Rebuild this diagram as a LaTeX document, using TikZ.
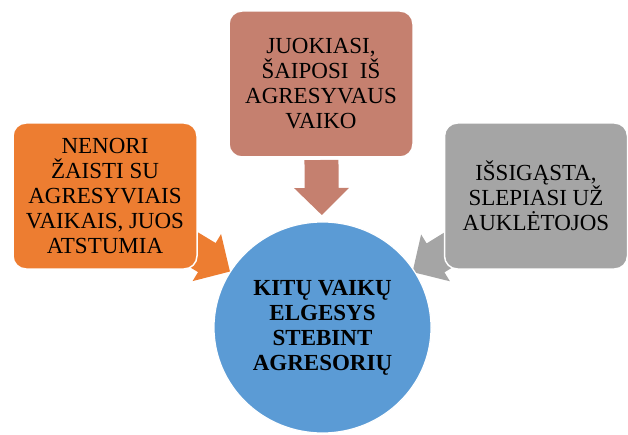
\documentclass[tikz,border=0pt]{standalone}
\usepackage{fontspec}
\setmainfont{Liberation Serif}
\usetikzlibrary{calc,shapes.geometric,backgrounds}
\definecolor{cOrange}{HTML}{ED7D31}
\definecolor{cRose}{HTML}{C5806F}
\definecolor{cGray}{HTML}{A5A5A5}
\definecolor{cBlue}{HTML}{5B9BD5}
\tikzset{
  txt/.style={font=\fontsize{23}{25}\selectfont, align=center, text=black, inner sep=0pt},
  sidebox/.style={txt, rectangle, rounded corners=13pt, draw=white, line width=1.5pt,
    minimum width=184pt, minimum height=146pt},
  hub/.style={txt, ellipse, draw=white, line width=1.2pt, fill=cBlue,
    minimum width=217pt, minimum height=211pt, font=\fontsize{23}{25}\selectfont\bfseries},
}
\newcommand\blockarrowdraw[5]{% #1 from node, #2 to node, #3 start dist, #4 colour
  \coordinate (#5s) at ($(#1.center)!#3pt!(#2.center)$);
  \coordinate (#5h) at ($(#1.center)!#3pt+28pt!(#2.center)$);
  \coordinate (#5t) at ($(#1.center)!#3pt+55pt!(#2.center)$);
  \fill[#4] ($(#5s)!17pt!90:(#5t)$) -- ($(#5h)!17pt!90:(#5t)$) -- ($(#5h)!27.5pt!90:(#5t)$)
    -- (#5t) -- ($(#5h)!27.5pt!-90:(#5t)$) -- ($(#5h)!17pt!-90:(#5t)$)
    -- ($(#5s)!17pt!-90:(#5t)$) -- cycle;
}
\begin{document}
\begin{tikzpicture}[x=1pt,y=-1pt]
\useasboundingbox (0,0) rectangle (628,435);
\node[sidebox, fill=cOrange] (lbox) at (105,196) {NENORI\\ŽAISTI SU\\AGRESYVIAIS\\VAIKAIS, JUOS\\ATSTUMIA};
\node[sidebox, fill=cRose] (tbox) at (321,84) {JUOKIASI,\\ŠAIPOSI \ IŠ\\AGRESYVAUS\\VAIKO};
\node[sidebox, fill=cGray, minimum width=183pt] (rbox) at (536,196) {IŠSIGĄSTA,\\SLEPIASI UŽ\\AUKLĖTOJOS};
\node[hub] (circ) at (322.5,327.5) {KITŲ VAIKŲ\\ELGESYS\\STEBINT\\AGRESORIŲ};
\begin{scope}[on background layer]
  \blockarrowdraw{lbox}{circ}{91}{cOrange}{la}
  \blockarrowdraw{tbox}{circ}{76}{cRose}{ta}
  \blockarrowdraw{rbox}{circ}{90}{cGray}{ra}
\end{scope}
\end{tikzpicture}
\end{document}
